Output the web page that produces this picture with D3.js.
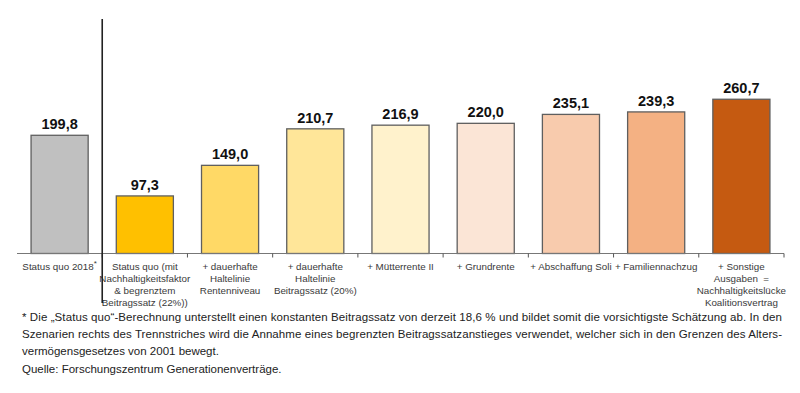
<!DOCTYPE html>
<html>
<head>
<meta charset="utf-8">
<style>
  body { margin: 0; background: #fff; font-family: Arial, 'Liberation Sans', sans-serif; }
  .val { font-size: 14.5px; font-weight: bold; fill: #111; }
  .cat { font-size: 9.8px; fill: #3a3a3a; white-space: pre; }
  .note { font-size: 11.5px; fill: #222; }
</style>
</head>
<body>
<script src="https://d3js.org/d3.v7.min.js"></script>
<script>

var width = 800;
var height = 393;

var labels = [
  ['Status quo 2018'],
  ['Status quo (mit', 'Nachhaltigkeitsfaktor', '& begrenztem', 'Beitragssatz (22%))'],
  ['+ dauerhafte', 'Haltelinie', 'Rentenniveau'],
  ['+ dauerhafte', 'Haltelinie', 'Beitragssatz (20%)'],
  ['+ Mütterrente II'],
  ['+ Grundrente'],
  ['+ Abschaffung Soli'],
  ['+ Familiennachzug'],
  ['+ Sonstige', 'Ausgaben  =', 'Nachhaltigkeitslücke', 'Koalitionsvertrag']
];
var values = [199.8, 97.3, 149.0, 210.7, 216.9, 220.0, 235.1, 239.3, 260.7];
var colors = ['#c0c0c0', '#ffc000', '#ffd966', '#ffe699', '#fff2cc', '#fbe5d6', '#f8cbad', '#f4b183', '#c55a11'];

var notes = [
  '* Die \u201EStatus quo\u201C-Berechnung unterstellt einen konstanten Beitragssatz von derzeit 18,6 % und bildet somit die vorsichtigste Schätzung ab. In den',
  'Szenarien rechts des Trennstriches wird die Annahme eines begrenzten Beitragssatzanstieges verwendet, welcher sich in den Grenzen des Alters-',
  'vermögensgesetzes von 2001 bewegt.',
  'Quelle: Forschungszentrum Generationenverträge.'
];

var fmt = function (v) { return d3.format('.1f')(v).replace('.', ','); };

var svg = d3.select('body').append('svg')
  .attr('width', width)
  .attr('height', height);

var x = d3.scaleBand()
  .domain(d3.range(values.length))
  .range([17, 784])
  .paddingInner(0.33)
  .paddingOuter(0.165);

var y = d3.scaleLinear()
  .domain([0, 300])
  .range([253.5, 76]);

// bars
svg.selectAll('rect.bar')
  .data(values)
  .enter().append('rect')
  .attr('class', 'bar')
  .attr('x', function (d, i) { return x(i); })
  .attr('y', function (d) { return y(d); })
  .attr('width', x.bandwidth())
  .attr('height', function (d) { return y(0) - y(d); })
  .attr('fill', function (d, i) { return colors[i]; })
  .attr('stroke', '#5f5f5f')
  .attr('stroke-width', 1.3);

// value labels
svg.selectAll('text.val')
  .data(values)
  .enter().append('text')
  .attr('class', 'val')
  .attr('x', function (d, i) { return x(i) + x.bandwidth() / 2; })
  .attr('y', function (d) { return y(d) - 6; })
  .attr('text-anchor', 'middle')
  .text(fmt);

// axis with ticks between categories
var axis = svg.append('g');
axis.append('line')
  .attr('x1', 17).attr('x2', 784)
  .attr('y1', y(0)).attr('y2', y(0))
  .attr('stroke', '#777').attr('stroke-width', 1);

var step = x.step();
var bounds = d3.range(values.length + 1).map(function (i) { return x(0) - x.paddingInner() * step / 2 + i * step; });
axis.selectAll('line.tick')
  .data(bounds.slice(1))
  .enter().append('line')
  .attr('class', 'tick')
  .attr('x1', function (d) { return d; }).attr('x2', function (d) { return d; })
  .attr('y1', y(0)).attr('y2', y(0) + 4)
  .attr('stroke', '#555').attr('stroke-width', 1);

// category labels
var cats = svg.selectAll('text.cat')
  .data(labels)
  .enter().append('text')
  .attr('class', 'cat')
  .attr('text-anchor', 'middle')
  .attr('x', function (d, i) { return x(i) + x.bandwidth() / 2; })
  .attr('y', y(0) + 16);

cats.selectAll('tspan')
  .data(function (d) { return d; })
  .enter().append('tspan')
  .attr('x', function () { return d3.select(this.parentNode).attr('x'); })
  .attr('dy', function (d, i) { return i === 0 ? 0 : 12; })
  .text(function (d) { return d; });

cats.filter(function (d, i) { return i === 0; })
  .append('tspan')
  .attr('dy', -4)
  .style('font-size', '8px')
  .text('*');

// separator between status quo and scenarios
svg.append('line')
  .attr('x1', bounds[1]).attr('x2', bounds[1])
  .attr('y1', 19).attr('y2', 303)
  .attr('stroke', '#222').attr('stroke-width', 1.6);

// footnote
svg.selectAll('text.note')
  .data(notes)
  .enter().append('text')
  .attr('class', 'note')
  .attr('x', 22)
  .attr('y', function (d, i) { return [321, 338, 355, 373][i]; })
  .attr('textLength', function (d, i) { return i < 2 ? 760 : null; })
  .attr('lengthAdjust', 'spacing')
  .text(function (d) { return d; });

</script>
</body>
</html>
